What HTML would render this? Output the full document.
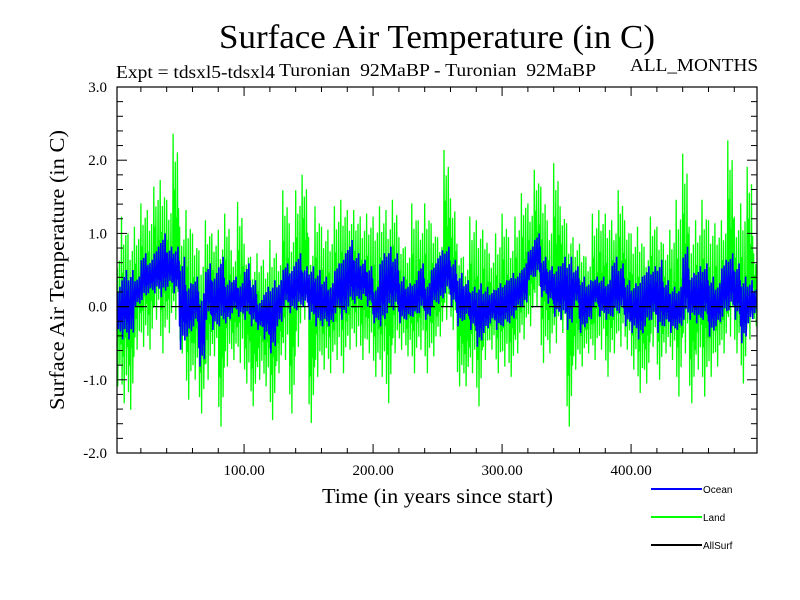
<!DOCTYPE html>
<html><head><meta charset="utf-8"><style>
body{margin:0;background:#fff}
svg{display:block}
text{font-family:"Liberation Serif",serif;fill:#000}
</style></head><body>
<svg id="chart" width="800" height="600" viewBox="0 0 800 600" xmlns="http://www.w3.org/2000/svg">
<rect width="800" height="600" fill="#fff"/>
<text x="219" y="48" font-size="34" textLength="436" lengthAdjust="spacingAndGlyphs">Surface Air Temperature (in C)</text>
<text x="116" y="78" font-size="18" textLength="159" lengthAdjust="spacingAndGlyphs">Expt = tdsxl5-tdsxl4</text>
<text x="279" y="76" font-size="18" xml:space="preserve" textLength="317" lengthAdjust="spacingAndGlyphs">Turonian  92MaBP - Turonian  92MaBP</text>
<text x="630" y="71" font-size="18" textLength="128" lengthAdjust="spacingAndGlyphs">ALL_MONTHS</text>
<g id="plot"></g>
<text transform="translate(64,410) rotate(-90)" font-size="21" textLength="280" lengthAdjust="spacingAndGlyphs">Surface Air Temperature (in C)</text>
<text x="322" y="503" font-size="21" textLength="231" lengthAdjust="spacingAndGlyphs">Time (in years since start)</text>
<g>
<line x1="651" y1="489" x2="702" y2="489" stroke="#0000ff" stroke-width="2"/>
<text x="703" y="493" font-size="10" style="font-family:'Liberation Sans',sans-serif">Ocean</text>
<line x1="651" y1="517" x2="702" y2="517" stroke="#00ff00" stroke-width="2"/>
<text x="703" y="521" font-size="10" style="font-family:'Liberation Sans',sans-serif">Land</text>
<line x1="651" y1="545" x2="702" y2="545" stroke="#000" stroke-width="2"/>
<text x="703" y="549" font-size="10" style="font-family:'Liberation Sans',sans-serif">AllSurf</text>
</g>
</svg>
<script>
// 5-year bins starting at year 0
var binYears = 5;
var landMax = [0.82,1.23,1.00,1.09,1.41,1.32,1.64,1.73,1.46,2.36,1.09,1.32,1.00,0.77,1.18,1.00,1.05,1.27,0.77,1.43,0.86,0.68,0.73,0.64,0.91,0.73,1.59,1.14,1.59,1.80,0.95,1.37,1.09,1.05,1.37,1.46,1.32,1.32,1.23,1.27,1.23,1.37,1.32,1.46,0.95,0.82,1.41,1.18,
1.41,1.14,0.95,2.14,1.48,0.86,0.68,1.23,1.18,1.05,0.73,1.00,1.27,0.95,1.23,1.55,1.41,1.87,1.64,1.18,1.96,1.37,1.14,0.95,0.86,0.68,1.27,1.32,1.27,1.18,1.59,1.18,1.00,1.09,0.82,1.23,1.09,0.86,1.05,1.46,2.09,1.09,1.18,1.46,1.18,1.14,1.18,2.27,1.23,1.41,1.91,0.73];
var landMin = [-1.09,-1.32,-1.41,-0.59,-0.55,-0.59,-0.18,-0.64,-0.36,-0.18,-0.64,-1.27,-1.00,-1.46,-1.00,-0.68,-1.64,-0.82,-0.73,-0.77,-1.05,-1.36,-1.00,-1.09,-1.55,-0.91,-0.73,-1.46,-0.55,-0.18,-1.59,-0.96,-0.86,-0.91,-0.73,-0.91,-0.59,-0.55,-0.73,-0.64,-0.96,-0.96,-1.32,-0.64,-0.59,-0.68,-0.91,-0.59,
-0.91,-0.68,-0.41,-0.18,-0.32,-1.09,-1.09,-0.91,-1.36,-0.73,-0.59,-0.91,-0.82,-0.96,-0.64,-0.45,-0.27,0.00,-0.77,-0.64,-0.50,-0.36,-1.64,-0.86,-0.82,-0.64,-0.73,-0.59,-0.96,-0.64,-0.55,-0.59,-0.86,-1.18,-1.05,-0.55,-1.00,-0.64,-0.73,-1.23,-0.64,-1.32,-0.86,-1.23,-0.96,-0.82,-0.64,-0.41,-0.64,-1.05,-0.45,-0.27];
var oceanMax = [0.27,0.50,0.50,0.41,0.73,0.64,0.82,1.00,0.82,0.82,0.68,0.32,0.41,0.18,0.59,0.46,0.68,0.36,0.41,0.32,0.59,0.36,0.09,0.27,0.36,0.36,0.59,0.55,0.73,0.55,0.55,0.50,0.41,0.32,0.59,0.73,0.91,0.73,0.64,0.55,0.27,0.73,0.82,0.73,0.41,0.32,0.36,0.59,
0.32,0.59,0.77,0.82,0.64,0.46,0.36,0.27,0.32,0.27,0.23,0.32,0.36,0.46,0.46,0.59,0.82,1.00,0.68,0.55,0.55,0.68,0.68,0.55,0.41,0.36,0.41,0.41,0.36,0.68,0.59,0.36,0.32,0.41,0.55,0.55,0.64,0.36,0.27,0.27,0.82,0.46,0.55,0.59,0.41,0.32,0.64,0.73,0.59,0.41,0.36,0.27];
var oceanMin = [-0.41,-0.45,-0.45,0.00,0.09,0.18,0.18,0.13,0.27,0.18,-0.59,-0.41,-0.27,-0.82,-0.18,-0.32,-0.27,-0.23,-0.09,-0.14,-0.18,-0.27,-0.32,-0.45,-0.64,-0.27,0.00,-0.09,-0.05,0.00,-0.18,-0.27,-0.27,-0.27,-0.09,-0.18,0.00,0.04,0.09,0.00,-0.23,-0.27,-0.09,-0.05,-0.23,-0.18,-0.14,-0.09,
-0.18,0.00,0.04,0.18,0.00,-0.27,-0.18,-0.32,-0.55,-0.36,-0.23,-0.32,-0.27,-0.23,-0.05,0.00,0.36,0.41,0.13,0.04,-0.14,-0.18,-0.32,0.00,-0.36,-0.23,0.00,-0.14,-0.18,-0.14,-0.09,-0.27,-0.36,-0.45,-0.27,-0.18,-0.36,-0.27,-0.36,-0.32,-0.18,-0.18,-0.23,-0.18,-0.41,-0.27,-0.14,-0.05,-0.18,-0.50,-0.23,-0.09];
var yTickLabels = ["3.0","2.0","1.0","0.0","-1.0","-2.0"];
var xTickLabels = ["100.00","200.00","300.00","400.00"];

var L=117,R=757,T=87,B=453, xMin=1.5, xMax=497.6, yMin=-2, yMax=3;
function sx(v){return L+(v-xMin)/(xMax-xMin)*(R-L);}
function sy(v){return B-(v-yMin)/(yMax-yMin)*(B-T);}
var NS="http://www.w3.org/2000/svg", plot=document.getElementById('plot');
function mk(tag,attrs,parent){var e=document.createElementNS(NS,tag);for(var k in attrs)e.setAttribute(k,attrs[k]);(parent||plot).appendChild(e);return e;}

var defs=mk('defs',{});
var cp=mk('clipPath',{id:'clip'},defs);mk('rect',{x:L,y:T,width:R-L,height:B-T},cp);
var g=mk('g',{'clip-path':'url(#clip)'});

// within-bin oscillation shape (fraction between bin min and bin max)
var wiggle=[1,0.1,0.7,0.25,0.85,0,0.55,0.35,0.9,0.15,0.6,0.3];
function series(mx,mn,color,w,name,shift){
  var pts=[];
  for(var i=0;i<mx.length;i++){
    var y0=i*binYears, hi=mx[i], lo=mn[i];
    for(var j=0;j<wiggle.length;j++){
      var f=wiggle[(j+shift)%wiggle.length];
      pts.push(sx(y0+j*binYears/wiggle.length).toFixed(1)+','+sy(lo+f*(hi-lo)).toFixed(1));
    }
  }
  var p=mk('polyline',{points:pts.join(' '),fill:'none',stroke:color,'stroke-width':w,'stroke-linejoin':'miter'},g);
  
  
}
series(landMax,landMin,'#00ff00',1.3,'land-series',0);
series(oceanMax,oceanMin,'#0000ff',1.6,'ocean-series',3);

var zl=mk('line',{x1:L,x2:R,y1:sy(0),y2:sy(0),stroke:'#000','stroke-width':1.3,'stroke-dasharray':'12,6'});



var frame=mk('rect',{x:L,y:T,width:R-L,height:B-T,fill:'none',stroke:'#000','stroke-width':1.2});



for(var v=-2;v<=3.001;v+=0.2){
  var major=Math.abs(v-Math.round(v))<1e-6, len=major?10:6, y=sy(v);
  mk('line',{x1:L,x2:L+len,y1:y,y2:y,stroke:'#000','stroke-width':1});
  mk('line',{x1:R,x2:R-len,y1:y,y2:y,stroke:'#000','stroke-width':1});
}
yTickLabels.forEach(function(s){
  var t=mk('text',{x:107,y:sy(parseFloat(s))+5,'font-size':15,'text-anchor':'end'});
  t.textContent=s;
  
  
});
for(var yr=20;yr<xMax;yr+=20){
  var maj=yr%100===0, ln=maj?9:5, x=sx(yr);
  mk('line',{x1:x,x2:x,y1:B,y2:B-ln,stroke:'#000','stroke-width':1});
  mk('line',{x1:x,x2:x,y1:T,y2:T+ln,stroke:'#000','stroke-width':1});
}
xTickLabels.forEach(function(s){
  var t=mk('text',{x:sx(parseFloat(s)),y:475,'font-size':15,'text-anchor':'middle'});
  t.textContent=s;
  
  
});
</script>
</body></html>
